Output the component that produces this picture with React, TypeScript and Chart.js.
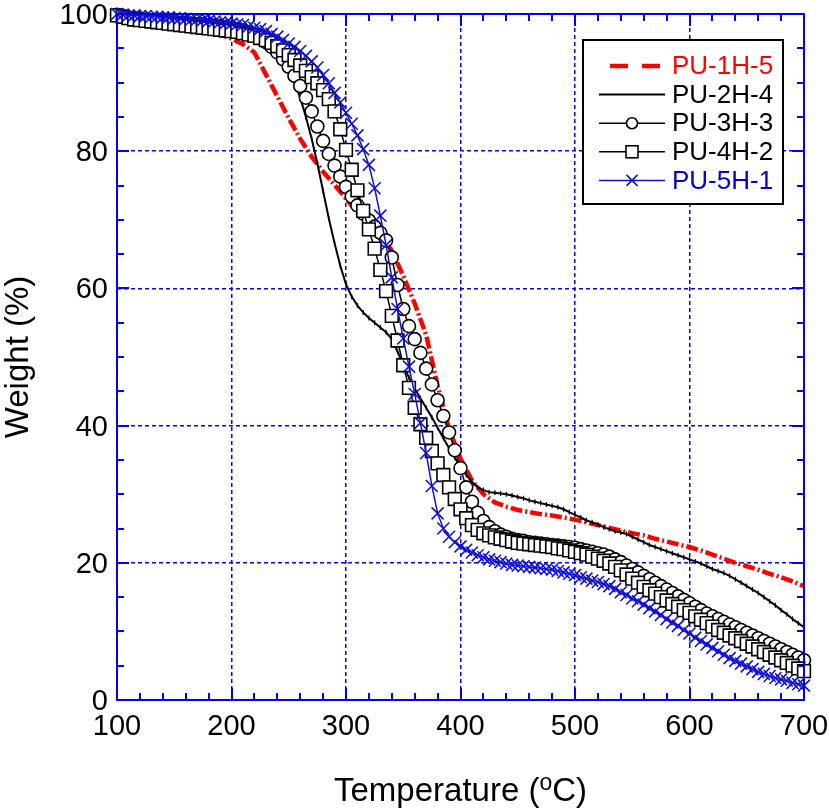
import React, { useEffect, useRef } from 'react';
import { Chart, registerables } from 'chart.js';

Chart.register(...registerables);

// ---------- data ----------
const TEMP_5: number[] = [
  100, 105, 110, 115, 120, 125, 130, 135, 140, 145, 150, 155, 160, 165, 170, 175, 180, 185, 190, 195,
  200, 205, 210, 215, 220, 225, 230, 235, 240, 245, 250, 255, 260, 265, 270, 275, 280, 285, 290, 295,
  300, 305, 310, 315, 320, 325, 330, 335, 340, 345, 350, 355, 360, 365, 370, 375, 380, 385, 390, 395,
  400, 405, 410, 415, 420, 425, 430, 435, 440, 445, 450, 455, 460, 465, 470, 475, 480, 485, 490, 495,
  500, 505, 510, 515, 520, 525, 530, 535, 540, 545, 550, 555, 560, 565, 570, 575, 580, 585, 590, 595,
  600, 605, 610, 615, 620, 625, 630, 635, 640, 645, 650, 655, 660, 665, 670, 675, 680, 685, 690, 695,
  700,
];

const TEMP_10: number[] = [
  100, 110, 120, 130, 140, 150, 160, 170, 180, 190, 200, 210, 220, 230, 240, 250, 260, 270, 280, 290,
  300, 310, 320, 330, 340, 350, 360, 370, 380, 390, 400, 410, 420, 430, 440, 450, 460, 470, 480, 490,
  500, 510, 520, 530, 540, 550, 560, 570, 580, 590, 600, 610, 620, 630, 640, 650, 660, 670, 680, 690,
  700,
];

// PU-1H-5 (on TEMP_10)
const PU_1H_5: number[] = [
  99.8, 99.6, 99.3, 99.0, 98.7, 98.4, 98.1, 97.8, 97.4, 97.0,
  96.4, 95.6, 94.4, 91.2, 88.0, 84.8, 81.8, 79.2, 77.0, 75.1,
  73.1, 71.0, 69.8, 68.0, 65.5, 61.8, 57.8, 53.2, 45.8, 39.5,
  35.2, 32.0, 30.0, 28.8, 28.2, 27.7, 27.4, 27.1, 26.9, 26.6,
  26.3, 25.9, 25.5, 25.1, 24.7, 24.3, 24.0, 23.5, 23.1, 22.7,
  22.3, 21.8, 21.2, 20.6, 20.0, 19.5, 19.0, 18.4, 17.9, 17.3,
  16.6,
];

// PU-2H-4 (on TEMP_5)
const PU_2H_4: number[] = [
  99.8, 99.4, 99.1, 98.9, 98.7, 98.6, 98.4, 98.3, 98.2, 98.1, 98.0, 97.9, 97.8, 97.7, 97.6, 97.5, 97.4, 97.3, 97.2, 97.1,
  97.0, 96.9, 96.7, 96.5, 96.2, 95.8, 95.3, 94.8, 94.1, 93.2, 91.8, 90.0, 87.8, 85.0, 81.8, 78.2, 74.2, 70.2, 66.6, 63.3,
  60.6, 58.8, 57.5, 56.5, 55.7, 55.0, 54.3, 53.6, 52.6, 50.8, 48.8, 47.0, 45.4, 44.0, 42.6, 41.2, 39.7, 38.2, 36.7, 35.3,
  34.0, 32.8, 31.8, 31.0, 30.6, 30.3, 30.2, 30.1, 30.0, 29.8, 29.6, 29.4, 29.1, 28.9, 28.7, 28.5, 28.3, 28.1, 27.8, 27.4,
  27.0, 26.6, 26.2, 25.9, 25.6, 25.2, 24.9, 24.6, 24.4, 24.2, 23.8, 23.4, 23.0, 22.6, 22.3, 22.0, 21.7, 21.4, 21.1, 20.8,
  20.5, 20.2, 19.9, 19.5, 19.1, 18.8, 18.5, 18.1, 17.6, 17.1, 16.6, 16.1, 15.6, 15.0, 14.4, 13.8, 13.1, 12.5, 11.8, 11.2,
  10.6,
];

// PU-3H-3 (on TEMP_5)
const PU_3H_3: number[] = [
  99.9, 99.7, 99.5, 99.4, 99.3, 99.2, 99.1, 99.0, 98.9, 98.9, 98.8, 98.7, 98.7, 98.6, 98.5, 98.5, 98.4, 98.3, 98.2, 98.1,
  98.0, 97.8, 97.6, 97.3, 97.0, 96.5, 95.9, 95.2, 94.4, 93.4, 92.3, 91.0, 89.5, 87.8, 85.8, 83.6, 81.5, 79.6, 77.9, 76.3,
  74.8, 73.4, 72.1, 70.9, 69.9, 69.0, 68.1, 67.0, 64.5, 60.5, 57.0, 54.5, 52.6, 50.6, 48.3, 46.0, 43.7, 41.4, 39.0, 36.4,
  33.8, 31.0, 28.9, 27.3, 26.1, 25.2, 24.6, 24.1, 23.8, 23.5, 23.3, 23.2, 23.0, 22.9, 22.8, 22.7, 22.6, 22.5, 22.4, 22.3,
  22.2, 22.0, 21.8, 21.6, 21.4, 21.2, 20.9, 20.5, 20.1, 19.6, 19.1, 18.6, 18.1, 17.6, 17.1, 16.6, 16.1, 15.6, 15.1, 14.6,
  14.1, 13.6, 13.1, 12.6, 12.2, 11.8, 11.4, 11.0, 10.6, 10.2, 9.8, 9.4, 9.0, 8.6, 8.2, 7.8, 7.4, 7.0, 6.6, 6.2,
  5.8,
];

// PU-4H-2 (on TEMP_5)
const PU_4H_2: number[] = [
  99.8, 99.6, 99.4, 99.2, 99.1, 99.0, 98.9, 98.8, 98.7, 98.6, 98.5, 98.4, 98.3, 98.2, 98.1, 98.0, 97.9, 97.8, 97.7, 97.6,
  97.5, 97.4, 97.2, 97.0, 96.8, 96.5, 96.2, 95.8, 95.3, 94.7, 94.0, 93.3, 92.5, 91.7, 90.8, 89.9, 88.9, 87.6, 85.8, 83.2,
  80.2, 77.3, 74.3, 71.3, 68.6, 65.8, 62.7, 59.6, 56.0, 52.4, 48.8, 45.5, 42.6, 40.2, 38.2, 36.3, 34.5, 32.8, 31.0, 29.3,
  27.8, 26.5, 25.5, 24.8, 24.3, 24.0, 23.7, 23.5, 23.3, 23.1, 22.9, 22.8, 22.7, 22.6, 22.5, 22.4, 22.3, 22.1, 22.0, 21.8,
  21.6, 21.4, 21.2, 20.9, 20.6, 20.3, 19.9, 19.4, 18.9, 18.3, 17.7, 17.1, 16.5, 16.0, 15.5, 15.0, 14.5, 14.0, 13.6, 13.1,
  12.7, 12.2, 11.7, 11.2, 10.7, 10.2, 9.8, 9.4, 9.0, 8.6, 8.2, 7.8, 7.4, 7.0, 6.6, 6.2, 5.8, 5.4, 5.0, 4.6,
  4.2,
];

// PU-5H-1 (on TEMP_5)
const PU_5H_1: number[] = [
  100.0, 99.9, 99.8, 99.8, 99.7, 99.7, 99.6, 99.6, 99.5, 99.5, 99.4, 99.4, 99.3, 99.2, 99.2, 99.1, 99.0, 98.9, 98.8, 98.7,
  98.6, 98.5, 98.4, 98.2, 98.0, 97.8, 97.5, 97.1, 96.7, 96.2, 95.7, 95.2, 94.6, 93.9, 93.1, 92.2, 91.1, 89.9, 88.5, 87.1,
  85.6, 84.0, 82.3, 80.3, 78.0, 74.6, 70.6, 66.3, 61.6, 57.0, 52.7, 48.6, 44.6, 40.4, 36.0, 31.2, 27.2, 25.0, 23.8, 23.0,
  22.4, 21.9, 21.5, 21.1, 20.8, 20.5, 20.3, 20.1, 19.9, 19.7, 19.6, 19.5, 19.4, 19.3, 19.2, 19.1, 19.0, 18.8, 18.6, 18.4,
  18.2, 17.9, 17.7, 17.4, 17.2, 16.9, 16.6, 16.2, 15.7, 15.3, 14.8, 14.4, 13.9, 13.4, 12.9, 12.4, 11.8, 11.3, 10.8, 10.2,
  9.7, 9.1, 8.6, 8.1, 7.6, 7.1, 6.6, 6.1, 5.7, 5.3, 4.9, 4.5, 4.1, 3.8, 3.5, 3.2, 3.0, 2.8, 2.5, 2.3,
  2.1,
];

const SERIES_NAMES: string[] = ['PU-1H-5', 'PU-2H-4', 'PU-3H-3', 'PU-4H-2', 'PU-5H-1'];
const X_TICKS: number[] = [100, 200, 300, 400, 500, 600, 700];
const Y_TICKS: number[] = [0, 20, 40, 60, 80, 100];

// ---------- styles ----------
const FONT = '"Liberation Sans", Arial, Helvetica, sans-serif';
const AXIS_BLUE = '#0000ff';
const RED = '#ff0000';
const BLACK = '#000000';
const MARK_BLUE = '#1010d8';

const toXY = (xs: number[], ys: number[]) => xs.map((x, i) => ({ x, y: ys[i] }));

const framePlugin = {
  id: 'frameTicks',
  afterDatasetsDraw(chart: any) {
    const { ctx, chartArea: a, scales } = chart;
    const xs = scales.x;
    const ys = scales.y;
    ctx.save();
    ctx.strokeStyle = AXIS_BLUE;
    ctx.lineWidth = 2;
    ctx.setLineDash([]);
    const xMin = xs.min, xMax = xs.max, yMin = ys.min, yMax = ys.max;
    ctx.beginPath();
    for (let v = xMin; v <= xMax + 1e-6; v += 20) {
      const px = Math.round(xs.getPixelForValue(v));
      const major = Math.abs((v - xMin) % 100) < 1e-6;
      const len = major ? 12 : 7;
      ctx.moveTo(px, a.bottom);
      ctx.lineTo(px, a.bottom - len);
      ctx.moveTo(px, a.top);
      ctx.lineTo(px, a.top + len);
    }
    for (let v = yMin; v <= yMax + 1e-6; v += 5) {
      const py = Math.round(ys.getPixelForValue(v));
      const major = Math.abs(v % 20) < 1e-6;
      const len = major ? 12 : 7;
      ctx.moveTo(a.left, py);
      ctx.lineTo(a.left + len, py);
      ctx.moveTo(a.right, py);
      ctx.lineTo(a.right - len, py);
    }
    ctx.stroke();
    ctx.strokeRect(a.left, a.top, a.right - a.left, a.bottom - a.top);

    // tick labels, placed with the scales
    ctx.fillStyle = '#000';
    ctx.font = `29px ${FONT}`;
    ctx.textBaseline = 'alphabetic';
    ctx.textAlign = 'center';
    X_TICKS.forEach((v) => {
      ctx.fillText(String(v), xs.getPixelForValue(v), a.bottom + 35);
    });
    ctx.textAlign = 'right';
    Y_TICKS.forEach((v) => {
      ctx.fillText(String(v), a.left - 9, ys.getPixelForValue(v) + 10);
    });
    ctx.restore();
  },
};

const legendTitlePlugin = {
  id: 'legendTitles',
  afterDraw(chart: any) {
    const { ctx, chartArea: a } = chart;
    ctx.save();

    // ---- legend box ----
    const bx = a.right - 221;
    const by = a.top + 26;
    const bw = 200;
    const bh = 164;
    ctx.fillStyle = '#ffffff';
    ctx.fillRect(bx, by, bw, bh);
    ctx.strokeStyle = '#000000';
    ctx.lineWidth = 2;
    ctx.setLineDash([]);
    ctx.strokeRect(bx, by, bw, bh);

    const textColors = [RED, BLACK, BLACK, BLACK, '#0000cc'];
    chart.data.datasets.forEach((ds: any, i: number) => {
      const cy = by + 26 + i * 28.6;
      const x1 = bx + 16;
      const x2 = bx + 82;
      const mx = (x1 + x2) / 2;
      ctx.strokeStyle = ds.borderColor;
      ctx.lineWidth = ds.borderWidth;
      ctx.setLineDash(i === 0 ? [18, 14] : []);
      ctx.beginPath();
      ctx.moveTo(i === 0 ? x1 + 11 : x1, cy);
      ctx.lineTo(x2, cy);
      ctx.stroke();
      ctx.setLineDash([]);
      ctx.lineWidth = 1.6;
      ctx.strokeStyle = ds.pointBorderColor || ds.borderColor;
      if (ds.pointStyle === 'circle' && ds.pointRadius > 3) {
        ctx.fillStyle = '#fff';
        ctx.beginPath();
        ctx.arc(mx, cy, 5.5, 0, Math.PI * 2);
        ctx.fill();
        ctx.stroke();
      } else if (ds.pointStyle === 'rect') {
        ctx.fillStyle = '#fff';
        ctx.fillRect(mx - 6, cy - 6, 12, 12);
        ctx.strokeRect(mx - 6, cy - 6, 12, 12);
      } else if (ds.pointStyle === 'crossRot') {
        ctx.beginPath();
        ctx.moveTo(mx - 5.5, cy - 5.5);
        ctx.lineTo(mx + 5.5, cy + 5.5);
        ctx.moveTo(mx - 5.5, cy + 5.5);
        ctx.lineTo(mx + 5.5, cy - 5.5);
        ctx.stroke();
      }
      ctx.fillStyle = textColors[i];
      ctx.font = `26px ${FONT}`;
      ctx.textAlign = 'left';
      ctx.textBaseline = 'middle';
      ctx.fillText(ds.label, bx + 89, cy + 1);
    });

    // ---- x title with superscript ----
    ctx.fillStyle = '#000';
    ctx.textBaseline = 'alphabetic';
    ctx.textAlign = 'left';
    const big = `33px ${FONT}`;
    const small = `23px ${FONT}`;
    const p1 = 'Temperature (';
    const p2 = 'o';
    const p3 = 'C)';
    ctx.font = big;
    const w1 = ctx.measureText(p1).width;
    const w3 = ctx.measureText(p3).width;
    ctx.font = small;
    const w2 = ctx.measureText(p2).width;
    const total = w1 + w2 + w3;
    let tx = (a.left + a.right) / 2 - total / 2;
    const baseY = 801;
    ctx.font = big;
    ctx.fillText(p1, tx, baseY);
    tx += w1;
    ctx.font = small;
    ctx.fillText(p2, tx, baseY - 11);
    tx += w2;
    ctx.font = big;
    ctx.fillText(p3, tx, baseY);

    // ---- y title ----
    ctx.save();
    ctx.translate(19, (a.top + a.bottom) / 2);
    ctx.rotate(-Math.PI / 2);
    ctx.font = big;
    ctx.textAlign = 'center';
    ctx.textBaseline = 'middle';
    ctx.fillText('Weight (%)', 0, 0);
    ctx.restore();

    ctx.restore();
  },
};

export default function App() {
  const canvasRef = useRef<HTMLCanvasElement | null>(null);

  useEffect(() => {
    document.body.style.margin = '0';
    const canvas = canvasRef.current;
    if (!canvas) return;

    const chart = new Chart(canvas, {
      type: 'line',
      data: {
        datasets: [
          {
            label: SERIES_NAMES[0],
            data: toXY(TEMP_10, PU_1H_5),
            borderColor: RED,
            borderWidth: 4.5,
            borderDash: [12, 3, 2, 3],
            pointRadius: 0,
            pointStyle: 'circle',
            fill: false,
            order: 5,
            clip: false,
          },
          {
            label: SERIES_NAMES[1],
            data: toXY(TEMP_5, PU_2H_4),
            borderColor: BLACK,
            borderWidth: 2,
            pointStyle: 'line',
            pointRotation: 90,
            pointRadius: 2.5,
            pointBorderWidth: 1.2,
            pointBorderColor: BLACK,
            fill: false,
            order: 4,
            clip: false,
          },
          {
            label: SERIES_NAMES[2],
            data: toXY(TEMP_5, PU_3H_3),
            borderColor: BLACK,
            borderWidth: 1.5,
            pointStyle: 'circle',
            pointRadius: 6.5,
            pointBorderWidth: 1.6,
            pointBorderColor: BLACK,
            pointBackgroundColor: '#ffffff',
            fill: false,
            order: 3,
            clip: false,
          },
          {
            label: SERIES_NAMES[3],
            data: toXY(TEMP_5, PU_4H_2),
            borderColor: BLACK,
            borderWidth: 1.5,
            pointStyle: 'rect',
            pointRadius: 9,
            pointBorderWidth: 1.6,
            pointBorderColor: BLACK,
            pointBackgroundColor: '#ffffff',
            fill: false,
            order: 2,
            clip: false,
          },
          {
            label: SERIES_NAMES[4],
            data: toXY(TEMP_5, PU_5H_1),
            borderColor: MARK_BLUE,
            borderWidth: 1.5,
            pointStyle: 'crossRot',
            pointRadius: 8.5,
            pointBorderWidth: 1.6,
            pointBorderColor: MARK_BLUE,
            fill: false,
            order: 1,
            clip: false,
          },
        ] as any,
      },
      options: {
        animation: false,
        responsive: false,
        devicePixelRatio: 1,
        events: [],
        layout: { padding: { top: 14, left: 0, right: 25, bottom: 0 } },
        elements: { line: { tension: 0 } },
        plugins: {
          legend: { display: false },
          tooltip: { enabled: false },
          title: { display: false },
        },
        scales: {
          x: {
            type: 'linear',
            min: 100,
            max: 700,
            afterBuildTicks: (s: any) => {
              s.ticks = X_TICKS.map((v) => ({ value: v }));
            },
            ticks: { display: false },
            grid: { color: AXIS_BLUE, lineWidth: 1.5, drawTicks: false },
            border: { display: false, dash: [4, 3] },
            afterFit: (s: any) => {
              s.height = 112;
            },
          },
          y: {
            type: 'linear',
            min: 0,
            max: 100,
            afterBuildTicks: (s: any) => {
              s.ticks = Y_TICKS.map((v) => ({ value: v }));
            },
            ticks: { display: false },
            grid: { color: AXIS_BLUE, lineWidth: 1.5, drawTicks: false },
            border: { display: false, dash: [4, 3] },
            afterFit: (s: any) => {
              s.width = 117;
            },
          },
        },
      } as any,
      plugins: [framePlugin, legendTitlePlugin],
    });

    return () => {
      chart.destroy();
    };
  }, []);

  return (
    <div style={{ width: 829, height: 812 }}>
      <canvas ref={canvasRef} width={829} height={812} style={{ display: 'block' }} />
    </div>
  );
}
